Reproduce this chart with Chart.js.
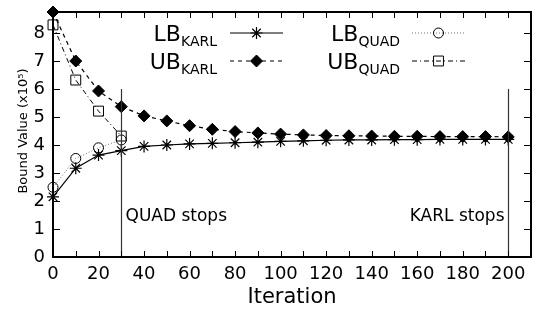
<!DOCTYPE html>
<html>
<head>
<meta charset="utf-8">
<script src="https://cdn.jsdelivr.net/npm/chart.js@4/dist/chart.umd.min.js"></script>
<style>
  html, body { margin: 0; padding: 0; background: #fff; overflow: hidden; }
  #wrap { width: 539px; height: 311px; position: relative; }
  #frame { position: absolute; left: 0; top: 0; width: 539px; height: 311px; pointer-events: none; }
  #frame div { position: absolute; background: #000; }
</style>
</head>
<body>
<div id="wrap"><canvas id="boundChart"></canvas><div id="frame"></div></div>
<script>
var iterKarl = [0, 10, 20, 30, 40, 50, 60, 70, 80, 90, 100, 110, 120, 130, 140, 150, 160, 170, 180, 190, 200];
var lbKarl = [2.15, 3.17, 3.64, 3.8, 3.95, 4.0, 4.04, 4.06, 4.08, 4.1, 4.13, 4.15, 4.17, 4.18, 4.18, 4.19, 4.19, 4.2, 4.2, 4.2, 4.2];
var ubKarl = [8.75, 7.0, 5.93, 5.37, 5.04, 4.86, 4.69, 4.56, 4.48, 4.43, 4.39, 4.36, 4.34, 4.33, 4.32, 4.31, 4.31, 4.3, 4.3, 4.3, 4.29];
var iterQuad = [0, 10, 20, 30];
var lbQuad = [2.49, 3.52, 3.9, 4.18];
var ubQuad = [8.29, 6.32, 5.21, 4.32];

var xTickLabels = [0, 20, 40, 60, 80, 100, 120, 140, 160, 180, 200];
var yTickLabels = [0, 1, 2, 3, 4, 5, 6, 7, 8];
var stopIters = [30, 200];
var stopLabels = ['QUAD stops', 'KARL stops'];

var FONT = '"DejaVu Sans", Verdana, sans-serif';

function pts(xs, ys) {
    return xs.map(function (x, i) { return { x: x, y: ys[i] }; });
}

// legend entries: main text, subscript, dataset, column, row
var legendItems = [
    { main: 'LB', sub: 'KARL', ds: 0, col: 0, row: 0 },
    { main: 'UB', sub: 'KARL', ds: 1, col: 0, row: 1 },
    { main: 'LB', sub: 'QUAD', ds: 2, col: 1, row: 0 },
    { main: 'UB', sub: 'QUAD', ds: 3, col: 1, row: 1 }
];

// box + inward tick marks, as filled rects on the canvas and as a DOM overlay
function frameRects(chart) {
    var xs = chart.scales.x, ys = chart.scales.y;
    var l = Math.round(xs.getPixelForValue(0)), r = Math.round(xs.getPixelForValue(210));
    var t = Math.round(ys.getPixelForValue(8.75)), b = Math.round(ys.getPixelForValue(0));
    var rects = [
        [l - 1, t - 1, r - l + 2, 2],
        [l - 1, b - 1, r - l + 2, 2],
        [l - 1, t - 1, 2, b - t + 2],
        [r - 1, t - 1, 2, b - t + 2]
    ];
    for (var v = 10; v < 210; v += 10) {
        var px = Math.round(xs.getPixelForValue(v));
        rects.push([px, b - 6, 1, 5]);
        rects.push([px, t + 1, 1, 5]);
    }
    yTickLabels.forEach(function (tk) {
        var py = Math.round(ys.getPixelForValue(tk));
        if (tk > 0) {
            rects.push([l + 1, py, 6, 1]);
            rects.push([r - 7, py, 6, 1]);
        }
    });
    return rects;
}

var annotPlugin = {
    id: 'annot',
    afterDraw: function (chart) {
        var ctx = chart.ctx;
        var xs = chart.scales.x, ys = chart.scales.y;
        var l = xs.getPixelForValue(0), r = xs.getPixelForValue(210);
        ctx.save();

        // stop lines and labels
        ctx.strokeStyle = '#333';
        ctx.lineWidth = 1.2;
        ctx.font = '17px ' + FONT;
        ctx.fillStyle = '#000';
        ctx.textBaseline = 'middle';
        stopIters.forEach(function (it, i) {
            var px = Math.round(xs.getPixelForValue(it)) + 0.5;
            ctx.beginPath();
            ctx.moveTo(px, ys.getPixelForValue(0));
            ctx.lineTo(px, ys.getPixelForValue(6));
            ctx.stroke();
            var ty = ys.getPixelForValue(1.43);
            ctx.textAlign = i === 0 ? 'left' : 'right';
            ctx.fillText(stopLabels[i], i === 0 ? px + 4 : px - 4, ty);
        });

        // axis titles
        ctx.textAlign = 'center';
        ctx.font = '21px ' + FONT;
        ctx.fillText('Iteration', (l + r) / 2, 298);
        ctx.save();
        ctx.translate(24, 131);
        ctx.rotate(-Math.PI / 2);
        ctx.font = '13px ' + FONT;
        ctx.fillText('Bound Value (x10\u2075)', 0, 0);
        ctx.restore();

        // legend
        var textRight = [217, 400];
        var sampleLeft = [230, 412];
        var rowY = [33, 61];
        legendItems.forEach(function (item) {
            var ds = chart.data.datasets[item.ds];
            var y = rowY[item.row];
            ctx.font = '14px ' + FONT;
            var subW = ctx.measureText(item.sub).width;
            ctx.font = '22px ' + FONT;
            var mainW = ctx.measureText(item.main).width;
            var right = textRight[item.col];
            ctx.fillStyle = '#000';
            ctx.textAlign = 'left';
            ctx.textBaseline = 'alphabetic';
            ctx.fillText(item.main, right - subW - mainW, y + 8);
            ctx.font = '14px ' + FONT;
            ctx.fillText(item.sub, right - subW, y + 13);

            var x0 = sampleLeft[item.col], x1 = x0 + 53;
            ctx.save();
            ctx.strokeStyle = ds.borderColor;
            ctx.lineWidth = ds.borderWidth;
            ctx.setLineDash(ds.borderDash || []);
            ctx.beginPath();
            ctx.moveTo(x0, y); ctx.lineTo(x1, y);
            ctx.stroke();
            ctx.restore();
            ctx.save();
            ctx.strokeStyle = ds.pointBorderColor;
            ctx.fillStyle = ds.pointBackgroundColor;
            ctx.lineWidth = ds.pointBorderWidth;
            Chart.helpers.drawPoint(ctx, {
                pointStyle: ds.pointStyle, radius: ds.pointRadius,
                rotation: 0, borderWidth: ds.pointBorderWidth
            }, (x0 + x1) / 2, y);
            ctx.restore();
        });

        // frame drawn last
        ctx.fillStyle = '#000';
        frameRects(chart).forEach(function (rc) {
            ctx.fillRect(rc[0], rc[1], rc[2], rc[3]);
        });
        ctx.restore();

        // same frame as an overlay on top of the canvas
        var box = document.getElementById('frame');
        box.innerHTML = frameRects(chart).map(function (rc) {
            return '<div style="left:' + rc[0] + 'px;top:' + rc[1] + 'px;width:' + rc[2] + 'px;height:' + rc[3] + 'px"></div>';
        }).join('');
    }
};

var ctxBound = document.getElementById('boundChart').getContext('2d');
var boundChart = new Chart(ctxBound, {
    type: 'line',
    data: {
        datasets: [{
            label: 'LB KARL',
            data: pts(iterKarl, lbKarl),
            borderColor: '#000',
            borderWidth: 1.2,
            pointStyle: 'star',
            pointRadius: 6,
            pointBorderColor: '#000',
            pointBackgroundColor: '#000',
            pointBorderWidth: 1.2,
            clip: false
        },
        {
            label: 'UB KARL',
            data: pts(iterKarl, ubKarl),
            borderColor: '#000',
            borderWidth: 1.2,
            borderDash: [4, 4],
            pointStyle: 'rectRot',
            pointRadius: 6,
            pointBorderColor: '#000',
            pointBackgroundColor: '#000',
            pointBorderWidth: 1,
            clip: false
        },
        {
            label: 'LB QUAD',
            data: pts(iterQuad, lbQuad),
            borderColor: '#777',
            borderWidth: 1,
            borderDash: [1, 2],
            pointStyle: 'circle',
            pointRadius: 5,
            pointBorderColor: '#000',
            pointBackgroundColor: 'rgba(255,255,255,0)',
            pointBorderWidth: 1,
            clip: false
        },
        {
            label: 'UB QUAD',
            data: pts(iterQuad, ubQuad),
            borderColor: '#000',
            borderWidth: 1,
            borderDash: [5, 3, 1, 3],
            pointStyle: 'rect',
            pointRadius: 7,
            pointBorderColor: '#000',
            pointBackgroundColor: 'rgba(255,255,255,0)',
            pointBorderWidth: 1,
            clip: false
        }]
    },
    options: {
        responsive: true,
        maintainAspectRatio: false,
        animation: false,
        layout: { padding: { top: 12, right: -1, left: 0, bottom: 0 } },
        plugins: { legend: { display: false }, tooltip: { enabled: false } },
        elements: { line: { tension: 0 } },
        scales: {
            x: {
                type: 'linear',
                min: 0,
                max: 210,
                afterBuildTicks: function (s) { s.ticks = xTickLabels.map(function (v) { return { value: v }; }); },
                afterFit: function (s) { s.height = 54; },
                grid: { display: false, drawTicks: false },
                border: { display: false },
                ticks: { color: '#000', padding: 7, maxRotation: 0, font: { family: FONT, size: 18 } }
            },
            y: {
                min: 0,
                max: 8.75,
                afterBuildTicks: function (s) { s.ticks = yTickLabels.map(function (v) { return { value: v }; }); },
                afterFit: function (s) { s.width = 53; s.paddingTop = 0; s.paddingBottom = 0; },
                grid: { display: false, drawTicks: false },
                border: { display: false },
                ticks: { color: '#000', padding: 8, font: { family: FONT, size: 18 } }
            }
        }
    },
    plugins: [annotPlugin]
});
</script>
</body>
</html>
